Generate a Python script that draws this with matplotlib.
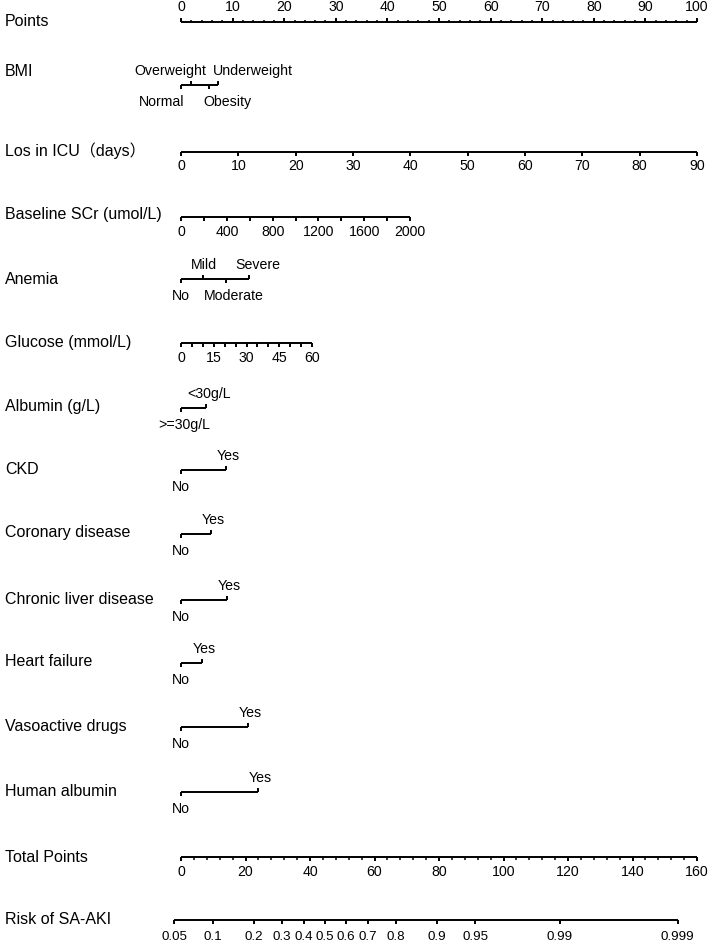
import numpy as np
import matplotlib
matplotlib.use("Agg")
import matplotlib.pyplot as plt

plt.rcParams['font.family'] = ['Liberation Sans', 'Noto Sans CJK SC', 'DejaVu Sans']

# ---- data ----
points_major = np.arange(0, 101, 10)
points_minor = np.arange(0, 101, 2)

bmi_levels = ['Normal', 'Overweight', 'Obesity', 'Underweight']
bmi_points = [0, 1.9, 5.4, 7.2]

los_ticks = np.arange(0, 91, 10)
los_max, los_max_points = 90, 100

scr_ticks = np.arange(0, 2001, 200)
scr_labels = np.arange(0, 2001, 400)
scr_max, scr_max_points = 2000, 44.4

anemia_levels = ['No', 'Mild', 'Moderate', 'Severe']
anemia_points = [0, 4.3, 8.7, 13.2]

glucose_ticks = np.arange(0, 61, 5)
glucose_labels = np.arange(0, 61, 15)
glucose_max, glucose_max_points = 60, 25.4

albumin_levels = ['>=30g/L', '<30g/L']
albumin_points = [0, 4.8]

binary_vars = ['CKD', 'Coronary disease', 'Chronic liver disease',
               'Heart failure', 'Vasoactive drugs', 'Human albumin']
binary_yes_points = [8.7, 5.8, 8.9, 4.1, 13.0, 14.9]

total_major = np.arange(0, 161, 20)
total_minor = np.arange(0, 161, 4)
total_max = 160

risk_probs = [0.05, 0.1, 0.2, 0.3, 0.4, 0.5, 0.6, 0.7, 0.8, 0.9, 0.95, 0.99, 0.999]
risk_labels = ['0.05', '0.1', '0.2', '0.3', '0.4', '0.5', '0.6', '0.7', '0.8',
               '0.9', '0.95', '0.99', '0.999']
lp_center, lp_scale = 44.6, 15.84  # total points at logit 0, points per logit unit

# ---- figure ----
fig = plt.figure(figsize=(7.09, 9.43), dpi=100)
ax = fig.add_axes([0, 0, 1, 1])
ppx = 5.16  # pixels per point
ax.set_xlim(-181 / ppx, (709 - 181) / ppx)
ax.set_ylim(943, 0)
ax.axis('off')

LW = 1.4
lab_fs = 11.5
tick_fs = 10.2
x_name = -176 / ppx


def name(y, text):
    ax.text(x_name, y, text, fontsize=lab_fs, ha='left', va='center')


def scale_row(y, xs, lab_xs, labels, major=4, minor_xs=None, minor=2.5,
              up=False, dy=14, fs=tick_fs):
    sgn = -1 if up else 1
    ax.plot([min(xs), max(xs)], [y, y], color='black', lw=LW,
            solid_capstyle='butt')
    ax.vlines(xs, y, y + sgn * major, color='black', lw=LW)
    if minor_xs is not None:
        ax.vlines(minor_xs, y, y + sgn * minor, color='black', lw=1.1)
    for x, t in zip(lab_xs, labels):
        ax.text(x, y + sgn * dy, t, fontsize=fs, ha='center', va='center')


def cat_row(y, pts, levels, up_flags, shifts):
    ax.plot([min(pts), max(pts)], [y, y], color='black', lw=LW,
            solid_capstyle='butt')
    for p, lev, up, sh in zip(pts, levels, up_flags, shifts):
        sgn = -1 if up else 1
        ax.vlines(p, y, y + sgn * 4, color='black', lw=LW)
        ax.text(p + sh / ppx, y + (-14 if up else 17), lev, fontsize=tick_fs,
                ha='center', va='center')


# Points
name(21, 'Points')
scale_row(22, points_major, points_major, [str(v) for v in points_major],
          major=4, minor_xs=points_minor, up=True, dy=15)

# BMI
name(72, 'BMI')
cat_row(85, bmi_points, bmi_levels, [False, True, False, True], [-19, -20, 19, 35])

# Los in ICU
name(151, 'Los in ICU（days）')
los_x = los_ticks * los_max_points / los_max
scale_row(152, los_x, los_x, [str(v) for v in los_ticks], dy=14)

# Baseline SCr
name(214, 'Baseline SCr (umol/L)')
scale_row(217, scr_ticks * scr_max_points / scr_max,
          scr_labels * scr_max_points / scr_max, [str(v) for v in scr_labels], dy=15)

# Anemia
name(279, 'Anemia')
cat_row(279, anemia_points, anemia_levels, [False, True, False, True], [0, 1, 8, 9])

# Glucose
name(342, 'Glucose (mmol/L)')
scale_row(343, glucose_ticks * glucose_max_points / glucose_max,
          glucose_labels * glucose_max_points / glucose_max,
          [str(v) for v in glucose_labels], dy=15)

# Albumin
name(407, 'Albumin (g/L)')
cat_row(408, albumin_points, albumin_levels, [False, True], [3, 3])

# binary predictors
binary_y = [470, 534, 600, 663, 727, 792]
for y, nm, p in zip(binary_y, binary_vars, binary_yes_points):
    name(y - 1, nm)
    cat_row(y, [0, p], ['No', 'Yes'], [False, True], [0, 2])

# Total Points
name(857, 'Total Points')
tp = lambda v: np.asarray(v) * 100 / total_max
scale_row(857, tp(total_major), tp(total_major), [str(v) for v in total_major],
          minor_xs=tp(total_minor), dy=15)

# Risk
name(919, 'Risk of SA-AKI')
rp = np.array(risk_probs)
risk_x = tp(lp_center + lp_scale * np.log(rp / (1 - rp)))
scale_row(920, risk_x, risk_x, risk_labels, dy=17, fs=9.6)

fig.savefig('out.png', dpi=100)
